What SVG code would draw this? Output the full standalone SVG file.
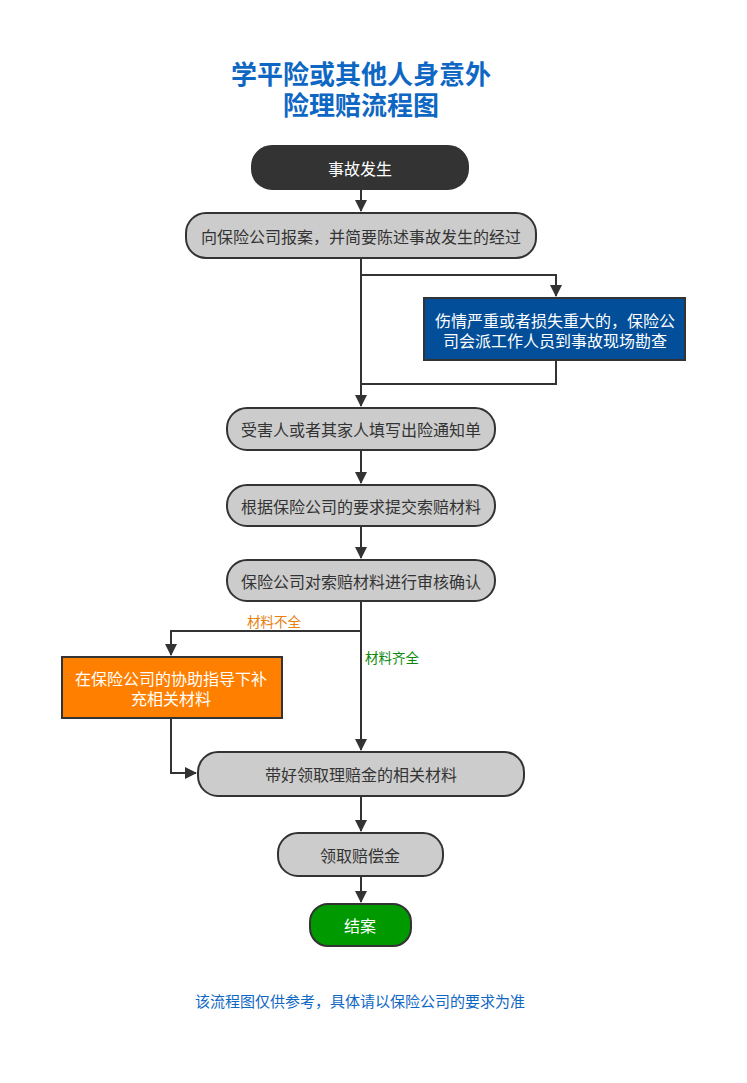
<svg xmlns="http://www.w3.org/2000/svg" width="747" height="1083" viewBox="0 0 747 1083">
<defs>
<style>
text{font-family:"Noto Sans CJK SC","Noto Sans",sans-serif;text-anchor:middle;dominant-baseline:central}
.t{font-size:26px;font-weight:bold;fill:#0f67c4}
.n{fill:#cccccc;stroke:#333333;stroke-width:2}
.nt{font-size:16px;fill:#333333}
.wt{font-size:16px;fill:#ffffff}
.c{fill:none;stroke:#333333;stroke-width:2}
.lbl{font-size:13.5px}
</style>
<marker id="a" markerWidth="12" markerHeight="12" viewBox="0 0 12 12" refX="11" refY="6" orient="auto" markerUnits="userSpaceOnUse">
<path d="M0,0 L12,6 L0,12 Z" fill="#333333"/>
</marker>
</defs>
<rect width="747" height="1083" fill="#ffffff"/>
<g id="title">
<text class="t" x="361" y="72">学平险或其他人身意外</text>
<text class="t" x="361" y="103">险理赔流程图</text>
</g>
<g id="connectors">
<path class="c" d="M361,189 V211" marker-end="url(#a)"/>
<path class="c" d="M361,258 V406" marker-end="url(#a)"/>
<path class="c" d="M361,275 H556 V296" marker-end="url(#a)"/>
<path class="c" d="M556,360 V384 H361"/>
<path class="c" d="M361,450 V483" marker-end="url(#a)"/>
<path class="c" d="M361,526 V558" marker-end="url(#a)"/>
<path class="c" d="M361,601 V750" marker-end="url(#a)"/>
<path class="c" d="M361,631 H171 V655" marker-end="url(#a)"/>
<path class="c" d="M171,718 V773 H196" marker-end="url(#a)"/>
<path class="c" d="M361,796 V831" marker-end="url(#a)"/>
<path class="c" d="M361,876 V902" marker-end="url(#a)"/>
<text class="lbl" x="274" y="621" fill="#e6800f">材料不全</text>
<text class="lbl" x="392" y="657" fill="#0a8a0a">材料齐全</text>
</g>
<g id="n1">
<rect x="252" y="146" width="216" height="43" rx="20" fill="#333333" stroke="#333333" stroke-width="2"/>
<text class="wt" x="360" y="167.5">事故发生</text>
</g>
<g id="n2">
<rect class="n" x="186" y="213" width="350" height="45" rx="20"/>
<text class="nt" x="361" y="235.5">向保险公司报案，并简要陈述事故发生的经过</text>
</g>
<g id="n_blue">
<rect x="424" y="298" width="261" height="62" fill="#024e98" stroke="#333333" stroke-width="2"/>
<text class="wt" x="555" y="320">伤情严重或者损失重大的，保险公</text>
<text class="wt" x="555" y="340">司会派工作人员到事故现场勘查</text>
</g>
<g id="n3">
<rect class="n" x="227" y="408" width="268" height="42" rx="20"/>
<text class="nt" x="361" y="429">受害人或者其家人填写出险通知单</text>
</g>
<g id="n4">
<rect class="n" x="227" y="485" width="268" height="41" rx="20"/>
<text class="nt" x="361" y="505.5">根据保险公司的要求提交索赔材料</text>
</g>
<g id="n5">
<rect class="n" x="227" y="560" width="268" height="41" rx="20"/>
<text class="nt" x="361" y="580.5">保险公司对索赔材料进行审核确认</text>
</g>
<g id="n_orange">
<rect x="62" y="657" width="220" height="61" fill="#ff8000" stroke="#333333" stroke-width="2"/>
<text class="wt" x="171" y="678">在保险公司的协助指导下补</text>
<text class="wt" x="171" y="698">充相关材料</text>
</g>
<g id="n6">
<rect class="n" x="198" y="752" width="326" height="44" rx="20"/>
<text class="nt" x="361" y="774">带好领取理赔金的相关材料</text>
</g>
<g id="n7">
<rect class="n" x="278" y="833" width="165" height="43" rx="20"/>
<text class="nt" x="360" y="854.5">领取赔偿金</text>
</g>
<g id="n8">
<rect x="310" y="904" width="101" height="42" rx="18" fill="#009900" stroke="#333333" stroke-width="2"/>
<text class="wt" x="360" y="925">结案</text>
</g>
<g id="footer">
<text x="360" y="1000" font-size="15" fill="#0f67c4">该流程图仅供参考，具体请以保险公司的要求为准</text>
</g>
</svg>
